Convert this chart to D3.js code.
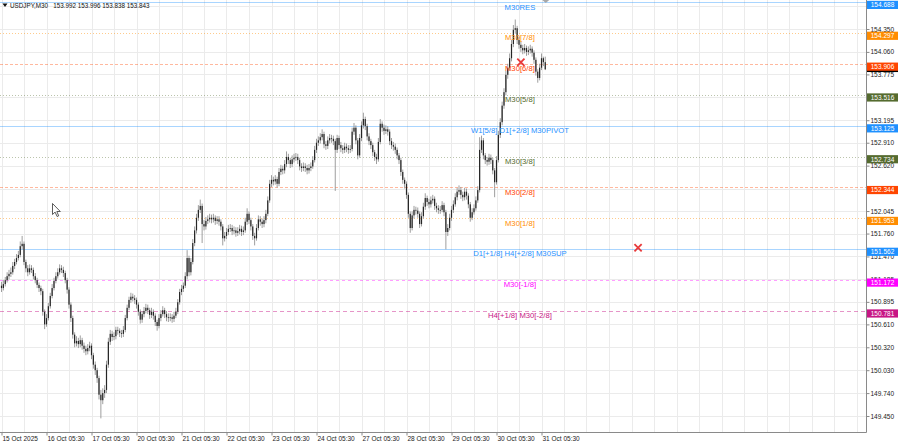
<!DOCTYPE html>
<html><head><meta charset="utf-8">
<script src="https://cdn.jsdelivr.net/npm/d3@7"></script>
<style>html,body{margin:0;padding:0;background:#fff;overflow:hidden}svg text{font-family:"Liberation Sans",Arial,sans-serif}</style>
</head><body><svg id="c" width="900" height="443"></svg>
<script>
// ---------- DATA ----------
const symbol = "USDJPY,M30";
const lastOHLC = ["153.992", "153.996", "153.838", "153.843"];
const firstOpen = 151.10;
const closes = [
151.07,151.12,151.17,151.22,151.25,151.27,151.35,151.40,151.45,151.49,151.60,151.63,151.40,151.32,151.27,151.32,151.30,151.22,151.17,151.11,151.07,151.03,150.77,150.61,
150.69,150.84,150.97,151.07,151.16,151.22,151.27,151.32,151.30,151.26,151.17,151.05,150.86,150.69,150.48,150.37,150.40,150.36,150.41,150.34,150.30,150.27,150.31,150.34,
150.22,150.10,150.03,149.93,149.72,149.65,149.74,149.78,150.10,150.39,150.49,150.45,150.46,150.54,150.53,150.50,150.49,150.54,150.69,150.82,150.92,150.96,150.94,150.92,
150.86,150.77,150.67,150.74,150.78,150.82,150.79,150.73,150.77,150.72,150.64,150.59,150.69,150.74,150.79,150.74,150.70,150.69,150.70,150.68,150.72,150.77,150.89,151.02,
151.06,151.10,151.22,151.45,151.27,151.40,151.64,151.80,151.96,152.06,152.11,151.88,151.85,151.92,151.94,151.96,151.94,151.96,151.92,151.94,151.91,151.85,151.70,151.73,
151.78,151.82,151.83,151.79,151.80,151.77,151.79,151.82,151.78,151.80,151.91,152.01,151.93,151.85,151.73,151.70,151.83,151.94,151.91,151.88,151.93,152.01,152.18,152.39,
152.44,152.42,152.45,152.39,152.54,152.58,152.56,152.64,152.73,152.69,152.64,152.70,152.72,152.73,152.69,152.61,152.59,152.61,152.59,152.56,152.59,152.61,152.69,152.82,
152.91,152.94,152.98,153.02,152.89,152.87,152.94,152.97,152.96,152.93,152.82,152.97,152.88,152.84,152.82,152.86,152.84,152.82,152.83,153.05,153.10,152.94,152.75,152.97,
153.13,153.21,153.12,152.99,152.93,152.88,152.79,152.73,152.70,152.92,153.15,153.10,153.06,153.08,153.05,152.93,152.88,152.86,152.82,152.75,152.69,152.54,152.44,152.39,
152.25,152.01,151.83,151.99,152.06,152.05,152.01,151.88,151.98,152.10,152.21,152.16,152.13,152.18,152.20,152.11,152.08,152.06,152.06,152.12,152.03,151.78,151.83,151.96,
152.06,152.13,152.22,152.29,152.31,152.25,152.22,152.29,152.24,152.13,151.96,152.03,152.08,152.18,152.31,152.82,152.94,152.75,152.69,152.67,152.72,152.69,152.56,152.41,
152.69,153.01,153.17,153.38,153.55,153.77,153.86,153.98,154.16,154.34,154.36,154.21,154.15,154.11,154.08,154.11,154.06,154.08,154.10,154.05,153.96,153.81,153.73,153.86,153.98,153.93,153.84
];
const highs = [
151.15,151.17,151.21,151.27,151.30,151.33,151.40,151.44,151.50,151.54,151.66,151.73,151.66,151.43,151.36,151.37,151.36,151.33,151.26,151.20,151.14,151.10,151.06,150.80,
150.74,150.88,151.01,151.12,151.20,151.27,151.32,151.37,151.36,151.34,151.29,151.20,151.08,150.89,150.72,150.51,150.46,150.44,150.47,150.44,150.38,150.34,150.36,150.39,
150.37,150.25,150.14,150.06,149.96,149.78,149.80,149.84,150.15,150.44,150.54,150.53,150.51,150.58,150.58,150.56,150.54,150.59,150.73,150.86,150.96,151.01,151.00,150.98,
150.95,150.89,150.80,150.78,150.83,150.87,150.86,150.82,150.82,150.80,150.75,150.67,150.74,150.79,150.84,150.82,150.78,150.75,150.75,150.74,150.77,150.82,150.93,151.06,
151.11,151.14,151.27,151.55,151.48,151.45,151.69,151.85,152.01,152.12,152.19,152.14,151.93,151.97,151.99,152.01,152.00,152.01,151.99,151.98,151.98,151.94,151.88,151.78,
151.83,151.87,151.88,151.87,151.85,151.84,151.84,151.87,151.86,151.85,151.96,152.08,152.04,151.96,151.88,151.77,151.88,151.99,151.98,151.95,151.98,152.06,152.23,152.44,
152.50,152.48,152.50,152.48,152.59,152.63,152.62,152.69,152.80,152.77,152.72,152.75,152.77,152.78,152.77,152.72,152.65,152.66,152.65,152.63,152.64,152.66,152.74,152.87,
152.96,152.99,153.03,153.08,153.05,152.93,152.99,153.02,153.01,153.00,152.96,153.01,153.00,152.92,152.88,152.91,152.90,152.88,152.88,153.10,153.16,153.13,152.97,153.02,
153.18,153.29,153.24,153.15,153.03,152.96,152.91,152.82,152.77,152.97,153.21,153.18,153.14,153.13,153.12,153.08,152.97,152.92,152.90,152.85,152.78,152.72,152.57,152.47,
152.42,152.28,152.04,152.04,152.11,152.10,152.09,152.04,152.03,152.15,152.27,152.24,152.20,152.23,152.25,152.23,152.15,152.12,152.11,152.17,152.15,152.06,151.88,152.01,
152.11,152.18,152.27,152.34,152.37,152.35,152.29,152.34,152.33,152.27,152.16,152.08,152.13,152.23,152.36,152.98,153.00,152.97,152.78,152.73,152.77,152.76,152.72,152.59,
152.74,153.06,153.22,153.43,153.60,153.82,153.91,154.04,154.21,154.40,154.47,154.39,154.25,154.19,154.15,154.16,154.14,154.13,154.15,154.13,154.08,153.99,153.84,153.91,154.04,154.00,154.00
];
const lows = [
151.02,151.04,151.09,151.14,151.18,151.21,151.24,151.31,151.37,151.42,151.46,151.56,151.36,151.27,151.22,151.24,151.26,151.18,151.13,151.07,151.02,150.98,150.72,150.55,
150.58,150.66,150.81,150.94,151.04,151.13,151.19,151.24,151.26,151.21,151.13,151.00,150.81,150.64,150.43,150.32,150.33,150.31,150.32,150.29,150.25,150.22,150.23,150.27,
150.17,150.05,149.97,149.87,149.66,149.42,149.60,149.68,149.74,150.06,150.35,150.40,150.41,150.42,150.48,150.45,150.44,150.45,150.51,150.66,150.79,150.88,150.90,150.87,
150.81,150.72,150.62,150.63,150.70,150.75,150.74,150.68,150.69,150.67,150.59,150.53,150.56,150.65,150.71,150.69,150.65,150.64,150.65,150.63,150.64,150.69,150.74,150.86,
150.98,151.02,151.07,151.18,151.22,151.23,151.37,151.60,151.76,151.92,152.02,151.64,151.80,151.81,151.88,151.90,151.89,151.90,151.87,151.88,151.86,151.80,151.61,151.66,
151.69,151.74,151.78,151.74,151.75,151.72,151.73,151.75,151.73,151.74,151.77,151.87,151.88,151.80,151.68,151.61,151.67,151.80,151.86,151.83,151.84,151.89,151.98,152.15,
152.35,152.37,152.38,152.34,152.36,152.50,152.51,152.52,152.60,152.64,152.59,152.60,152.66,152.68,152.64,152.56,152.54,152.55,152.54,152.51,152.52,152.55,152.58,152.66,
152.78,152.87,152.90,152.94,152.84,152.82,152.83,152.90,152.91,152.88,152.30,152.78,152.83,152.79,152.77,152.78,152.79,152.77,152.78,152.80,153.01,152.89,152.70,152.72,
152.93,153.09,153.07,152.94,152.88,152.83,152.74,152.68,152.64,152.67,152.89,153.05,153.01,153.02,153.00,152.88,152.83,152.81,152.77,152.70,152.64,152.49,152.39,152.33,
152.20,151.96,151.77,151.80,151.95,152.00,151.96,151.83,151.85,151.95,152.06,152.11,152.08,152.09,152.14,152.06,152.03,152.01,152.01,152.03,151.98,151.56,151.73,151.80,
151.92,152.02,152.10,152.18,152.25,152.20,152.17,152.18,152.19,152.08,151.91,151.93,152.00,152.05,152.15,152.28,152.78,152.70,152.64,152.62,152.63,152.64,152.51,152.22,
152.38,152.66,152.97,153.13,153.34,153.51,153.72,153.82,153.94,154.12,154.29,154.16,154.10,154.06,154.03,154.04,154.01,154.02,154.04,154.00,153.91,153.76,153.67,153.70,153.83,153.88,153.83
];
const dateLabels = ["15 Oct 2025","16 Oct 05:30","17 Oct 05:30","20 Oct 05:30","21 Oct 05:30","22 Oct 05:30","23 Oct 05:30","24 Oct 05:30","27 Oct 05:30","28 Oct 05:30","29 Oct 05:30","30 Oct 05:30","31 Oct 05:30"];
const dateLabelIdx = [0,24,48,72,96,120,144,168,192,216,240,264,288];
const priceTicks = [154.640,154.350,154.060,153.775,153.485,153.195,152.910,152.620,152.330,152.045,151.760,151.470,151.185,150.895,150.610,150.320,150.030,149.740,149.450];
const levelValues = [154.688,154.297,153.906,153.516,153.125,152.734,152.344,151.953,151.562,151.172,150.781];
const levelNames = ["M30RES","M30[7/8]","M30[6/8]","M30[5/8]","W1[5/8] D1[+2/8] M30PIVOT","M30[3/8]","M30[2/8]","M30[1/8]","D1[+1/8] H4[+2/8] M30SUP","M30[-1/8]","H4[+1/8] M30[-2/8]"];
const levelKinds = ["res","o78","r68","g58","piv","g38","r28","o18","sup","m-1","v-2"];
const markerIdx = [277, 339.5];
const markerPrice = [153.93, 151.58];
const bidPrice = 153.843;

// ---------- STYLE ----------
const kindStyle = {
  res:{c:"#1e90ff",dash:null,op:0.38},
  piv:{c:"#1e90ff",dash:null,op:0.38},
  sup:{c:"#1e90ff",dash:null,op:0.38},
  o78:{c:"#ff8c00",dash:"1,2",op:0.45},
  o18:{c:"#ff8c00",dash:"1,2",op:0.45},
  r68:{c:"#ff4500",dash:"3,2",op:0.38},
  r28:{c:"#ff4500",dash:"3,2",op:0.38},
  g58:{c:"#556b2f",dash:"1,2",op:0.4},
  g38:{c:"#556b2f",dash:"1,2",op:0.4},
  "m-1":{c:"#ff00ff",dash:"3,3",op:0.38},
  "v-2":{c:"#c71585",dash:"4,3",op:0.45}
};

const svg = d3.select("#c");
const W = 900, H = 443, plotR = 866.5, plotB = 432.5;
const x = d3.scaleLinear().domain([0, 461]).range([1.5, 1.5 + 461*1.875]);
const y = d3.scaleLinear().domain([149.450, 154.350]).range([416, 29]);

svg.append("rect").attr("width",W).attr("height",H).attr("fill","#fff");

// grid
const gridIdx = d3.range(0, 462, 12);
svg.append("g").selectAll("line").data(gridIdx).join("line")
  .attr("x1",d=>Math.round(x(d))+0.5).attr("x2",d=>Math.round(x(d))+0.5)
  .attr("y1",0).attr("y2",plotB).attr("stroke","#ebebeb").attr("stroke-width",1);
svg.append("g").selectAll("line").data(priceTicks).join("line")
  .attr("x1",0).attr("x2",plotR)
  .attr("y1",d=>Math.round(y(d))+0.5).attr("y2",d=>Math.round(y(d))+0.5)
  .attr("stroke","#ebebeb").attr("stroke-width",1);

// level lines
const lv = levelValues.map((v,i)=>({v, name:levelNames[i], s:kindStyle[levelKinds[i]]}));
svg.append("g").selectAll("line").data(lv).join("line")
  .attr("x1",0).attr("x2",plotR)
  .attr("y1",d=>Math.round(y(d.v))+0.5).attr("y2",d=>Math.round(y(d.v))+0.5)
  .attr("stroke",d=>d.s.c).attr("stroke-opacity",d=>d.s.op)
  .attr("stroke-dasharray",d=>d.s.dash).attr("stroke-width",1);

// candles
const bars = closes.map((c,i)=>({i, o: i===0?firstOpen:closes[i-1], c, h:highs[i], l:lows[i]}));
const cg = svg.append("g");
cg.selectAll("line").data(bars).join("line")
  .attr("x1",d=>x(d.i)).attr("x2",d=>x(d.i))
  .attr("y1",d=>y(d.h)).attr("y2",d=>y(d.l))
  .attr("stroke","#939393").attr("stroke-width",0.9);
cg.selectAll("rect").data(bars).join("rect")
  .attr("x",d=>x(d.i)-0.6).attr("width",1.2)
  .attr("y",d=>y(Math.max(d.o,d.c)))
  .attr("height",d=>Math.max(0.8, Math.abs(y(d.o)-y(d.c))))
  .attr("fill","#262626");

// level labels
const labelIdx = 276.5;
svg.append("g").selectAll("text").data(lv).join("text")
  .attr("x",x(labelIdx)).attr("y",d=>y(d.v)+7.3)
  .attr("text-anchor","middle").attr("font-size","7.7px")
  .attr("fill",d=>d.s.c)
  .text(d=>d.name);

// markers
const mk = markerIdx.map((m,i)=>({i:m, p:markerPrice[i]}));
svg.append("g").selectAll("path").data(mk).join("path")
  .attr("d",d=>{const cx=x(d.i), cy=y(d.p), r=3.6; return `M${cx-r},${cy-r}L${cx+r},${cy+r}M${cx-r},${cy+r}L${cx+r},${cy-r}`;})
  .attr("stroke","#e8393a").attr("stroke-width",1.8).attr("fill","none");

// frame
svg.append("line").attr("x1",plotR).attr("x2",plotR).attr("y1",0).attr("y2",plotB).attr("stroke","#8a8a8a");
svg.append("line").attr("x1",0).attr("x2",plotR).attr("y1",plotB).attr("y2",plotB).attr("stroke","#8a8a8a");

// right axis
const ay = svg.append("g").attr("transform",`translate(${plotR},0)`)
  .call(d3.axisRight(y).tickValues(priceTicks).tickFormat(d3.format(".3f")).tickSize(3).tickPadding(1));
ay.select(".domain").remove();
ay.selectAll("line").attr("stroke","#8a8a8a");
ay.selectAll("text").attr("font-size","6.5px").attr("fill","#222").attr("font-family","Liberation Sans, Arial, sans-serif");

// bottom axis
const ax = svg.append("g").attr("transform",`translate(0,${plotB})`)
  .call(d3.axisBottom(x).tickValues(dateLabelIdx).tickFormat((d,i)=>dateLabels[i]).tickSize(3).tickPadding(1));
ax.select(".domain").remove();
ax.selectAll("line").attr("stroke","#8a8a8a");
ax.selectAll("text").attr("text-anchor","start").attr("dx","0.5")
  .attr("font-size","6.5px").attr("fill","#222").attr("font-family","Liberation Sans, Arial, sans-serif");

// bid box (mostly hidden)
svg.append("rect").attr("x",plotR+0.5).attr("y",y(bidPrice)-6).attr("width",31).attr("height",9).attr("fill","#000");

// level price boxes
const bg = svg.append("g");
bg.selectAll("rect").data(lv).join("rect")
  .attr("x",plotR+0.5).attr("y",d=>Math.max(0,y(d.v)-1.5)).attr("width",31).attr("height",8.2)
  .attr("fill",d=>d.s.c);
bg.selectAll("text").data(lv).join("text")
  .attr("x",plotR+16).attr("y",d=>Math.max(0,y(d.v)-1.5)+6.4)
  .attr("text-anchor","middle").attr("font-size","6.5px").attr("fill","#fff")
  .text(d=>d3.format(".3f")(d.v));

// header
svg.append("path").attr("d","M2.5,3.5L7.5,3.5L5,7Z").attr("fill","#111");
svg.append("text").attr("x",10).attr("y",8.3).attr("font-size","6.3px").attr("fill","#111")
  .attr("xml:space","preserve")
  .text(symbol + "   " + lastOHLC.join(" "));

// chart shift marker
svg.append("path").attr("d",`M${x(290)-3},0L${x(290)+4},0L${x(290)+0.5},3Z`).attr("fill","#a8a8a8");

// mouse cursor
svg.append("path").attr("transform","translate(52.5,203.5)")
  .attr("d","M0,0L0,11L2.6,8.6L4.6,13L6.2,12.3L4.3,8L7.8,8Z")
  .attr("fill","#fff").attr("stroke","#333").attr("stroke-width",0.8);
</script></body></html>
